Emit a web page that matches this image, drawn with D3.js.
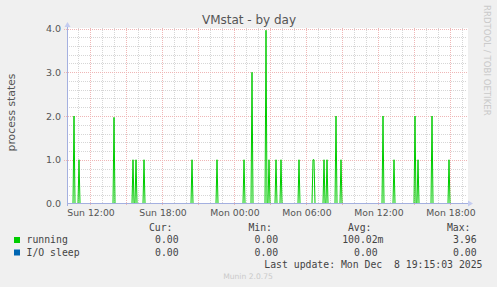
<!DOCTYPE html>
<html>
<head>
<meta charset="utf-8">
<script src="https://cdn.jsdelivr.net/npm/d3@7"></script>
<style>
  body { margin: 0; background: #f0f0f0; }
  svg { display: block; }
  text { font-family: "DejaVu Sans", sans-serif; fill: #555; }
  .mono { font-family: "DejaVu Sans Mono", monospace; font-size: 9.8px; fill: #444; white-space: pre; }
</style>
</head>
<body>
<div id="chart"></div>
<script>
// 5-minute samples of "running" that are not zero (Munin vmstat, by day)
const spikeTimes = [
  "2025-12-07 10:00", "2025-12-07 10:40", "2025-12-07 11:05", "2025-12-07 14:00",
  "2025-12-07 15:35", "2025-12-07 15:50", "2025-12-07 16:30", "2025-12-07 20:30",
  "2025-12-07 22:35", "2025-12-08 00:50", "2025-12-08 01:30", "2025-12-08 02:40",
  "2025-12-08 02:55", "2025-12-08 03:30", "2025-12-08 03:55", "2025-12-08 05:25",
  "2025-12-08 06:35", "2025-12-08 06:40", "2025-12-08 07:30", "2025-12-08 07:45",
  "2025-12-08 08:30", "2025-12-08 08:55", "2025-12-08 12:25", "2025-12-08 13:20",
  "2025-12-08 15:05", "2025-12-08 15:20", "2025-12-08 16:30", "2025-12-08 17:55"
];
const runningValues = [
  1, 2, 1, 1.97,
  1, 1, 1, 1,
  1, 1, 3, 3.96,
  1, 1, 1, 1,
  1, 1, 1, 1,
  2, 1, 2, 1,
  2, 1, 2, 1
];
const ioSleepValues = []; // I/O sleep stays at 0 the whole day

const timeDomain = ["2025-12-07 10:05", "2025-12-08 19:25"];
const xTickTimes = ["2025-12-07 12:00", "2025-12-07 18:00", "2025-12-08 00:00",
                    "2025-12-08 06:00", "2025-12-08 12:00", "2025-12-08 18:00"];
const xTickLabels = ["Sun 12:00", "Sun 18:00", "Mon 00:00", "Mon 06:00", "Mon 12:00", "Mon 18:00"];
const yTicks = [0, 1, 2, 3, 4];

const legendNames = ["running", "I/O sleep"];
const legendColors = ["#00cc00", "#0066b3"];
const curValues = ["0.00", "0.00"];
const minValues = ["0.00", "0.00"];
const avgValues = ["100.02m", "0.00"];
const maxValues = ["3.96", "0.00"];
const lastUpdate = "Last update: Mon Dec  8 19:15:03 2025";

const parseTime = d3.timeParse("%Y-%m-%d %H:%M");

const W = 497, H = 287;
const plot = { left: 67, right: 467, top: 28, bottom: 203 };

const x = d3.scaleTime(timeDomain.map(parseTime), [plot.left, plot.right]);
const y = d3.scaleLinear([0, 4], [plot.bottom + 0.5, plot.top + 0.5]);

// full 5 minute sample series, zero where nothing ran
const spikeMap = new Map(spikeTimes.map((t, i) => [+parseTime(t), runningValues[i]]));
const samples = d3.timeMinute.every(5).range(parseTime("2025-12-07 09:55"), parseTime("2025-12-08 19:30"));
const running = samples.map((t) => ({ date: t, value: spikeMap.get(+t) || 0 }));
const ioSleep = samples.map((t) => ({ date: t, value: 0 }));

const svg = d3.select("#chart").append("svg").attr("width", W).attr("height", H);

svg.append("rect").attr("width", W).attr("height", H).attr("fill", "#f0f0f0");
svg.append("rect")
  .attr("x", plot.left).attr("y", plot.top)
  .attr("width", plot.right - plot.left + 1).attr("height", plot.bottom - plot.top)
  .attr("fill", "#fff");

const px = (v) => Math.round(v) + 0.5;

// minor grid
const grid = svg.append("g");
const hours = d3.timeHour.range(x.domain()[0], x.domain()[1]);
grid.selectAll(".vminor").data(hours.filter((h) => h.getHours() % 3 !== 0)).join("line")
  .attr("x1", (d) => px(x(d))).attr("x2", (d) => px(x(d)))
  .attr("y1", plot.top).attr("y2", plot.bottom)
  .attr("stroke", "#d6d6d6").attr("stroke-dasharray", "1,1");
const yMinor = d3.range(0.2, 4, 0.2).filter((v) => Math.abs(v - Math.round(v)) > 0.01);
grid.selectAll(".hminor").data(yMinor).join("line")
  .attr("x1", plot.left).attr("x2", plot.right)
  .attr("y1", (d) => px(y(d))).attr("y2", (d) => px(y(d)))
  .attr("stroke", "#d6d6d6").attr("stroke-dasharray", "1,1");

// major grid
grid.selectAll(".vmajor").data(hours.filter((h) => h.getHours() % 3 === 0)).join("line")
  .attr("x1", (d) => px(x(d))).attr("x2", (d) => px(x(d)))
  .attr("y1", plot.top).attr("y2", plot.bottom + 3)
  .attr("stroke", "#efb6b6").attr("stroke-dasharray", "1,1");
grid.selectAll(".hmajor").data(yTicks.slice(1)).join("line")
  .attr("x1", plot.left - 3).attr("x2", plot.right)
  .attr("y1", (d) => px(y(d))).attr("y2", (d) => px(y(d)))
  .attr("stroke", "#efb6b6").attr("stroke-dasharray", "1,1");

// series
svg.append("clipPath").attr("id", "clip").append("rect")
  .attr("x", plot.left).attr("y", plot.top - 5)
  .attr("width", plot.right - plot.left).attr("height", plot.bottom - plot.top + 10);

const line = d3.line().x((d) => x(d.date)).y((d) => y(d.value));

svg.append("path")
  .attr("clip-path", "url(#clip)")
  .attr("fill", "none")
  .attr("stroke", legendColors[0])
  .attr("stroke-width", 1)
  .attr("d", line(running));

svg.append("path")
  .attr("clip-path", "url(#clip)")
  .attr("fill", "none")
  .attr("stroke", legendColors[1])
  .attr("stroke-width", 1)
  .attr("d", line(ioSleep));

// axes
const axisColor = "#a4b0e0";
svg.append("line")
  .attr("x1", plot.left).attr("x2", plot.right + 2)
  .attr("y1", plot.bottom + 0.5).attr("y2", plot.bottom + 0.5)
  .attr("stroke", axisColor);
svg.append("line")
  .attr("x1", plot.left + 0.5).attr("x2", plot.left + 0.5)
  .attr("y1", plot.top - 3).attr("y2", plot.bottom + 3)
  .attr("stroke", axisColor);
svg.append("path")
  .attr("d", `M${plot.right + 1},${plot.bottom - 2.5}L${plot.right + 6},${plot.bottom + 0.5}L${plot.right + 1},${plot.bottom + 3.5}Z`)
  .attr("fill", "#c4ccf0");
svg.append("path")
  .attr("d", `M${plot.left - 2.5},${plot.top - 1}L${plot.left + 0.5},${plot.top - 6}L${plot.left + 3.5},${plot.top - 1}Z`)
  .attr("fill", "#c4ccf0");

// tick labels
svg.append("g").selectAll("text").data(yTicks).join("text")
  .attr("x", plot.left - 6).attr("y", (d) => y(d) + 3.5)
  .attr("text-anchor", "end").attr("font-size", 9.5)
  .text((d) => d3.format(".1f")(d));

svg.append("g").selectAll("text").data(xTickTimes).join("text")
  .attr("x", (d) => x(parseTime(d)) + 1).attr("y", 216)
  .attr("text-anchor", "middle").attr("font-size", 9.3)
  .text((d, i) => xTickLabels[i]);

// titles
svg.append("text").attr("x", 249).attr("y", 24)
  .attr("text-anchor", "middle").attr("font-size", 12).attr("fill", "#555")
  .text("VMstat - by day");

svg.append("text").attr("transform", "translate(15,112.5) rotate(-90)")
  .attr("text-anchor", "middle").attr("font-size", 10.8)
  .text("process states");

svg.append("text").attr("transform", "translate(484,5) rotate(90)")
  .attr("text-anchor", "start").attr("font-size", 8.6).style("fill", "#cacaca")
  .text("RRDTOOL / TOBI OETIKER");

// legend
const colEnds = [184.5, 284, 383.5, 482.5];
const headers = ["Cur:", "Min:", "Avg:", "Max:"];
const columns = [curValues, minValues, avgValues, maxValues];
const rowY = [231, 243, 255.5];

svg.append("g").selectAll("text").data(headers).join("text")
  .attr("class", "mono").attr("x", (d, i) => colEnds[i] - 12).attr("y", rowY[0])
  .attr("text-anchor", "end").text((d) => d);

legendNames.forEach((name, r) => {
  svg.append("rect")
    .attr("x", 14).attr("y", rowY[r + 1] - 6)
    .attr("width", 6).attr("height", 6)
    .attr("fill", legendColors[r]);
  svg.append("text").attr("class", "mono")
    .attr("x", 26.5).attr("y", rowY[r + 1]).text(name);
  columns.forEach((col, c) => {
    const v = col[r];
    const hasUnit = /[a-zA-Z]$/.test(v);
    svg.append("text").attr("class", "mono")
      .attr("x", colEnds[c] - (hasUnit ? 0 : 5.9)).attr("y", rowY[r + 1])
      .attr("text-anchor", "end").text(v);
  });
});

svg.append("text").attr("class", "mono")
  .attr("x", colEnds[3]).attr("y", 267.5)
  .attr("text-anchor", "end").text(lastUpdate);

svg.append("text").attr("x", 248).attr("y", 279)
  .attr("text-anchor", "middle").attr("font-size", 7.6).style("fill", "#cacaca")
  .text("Munin 2.0.75");
</script>
</body>
</html>
